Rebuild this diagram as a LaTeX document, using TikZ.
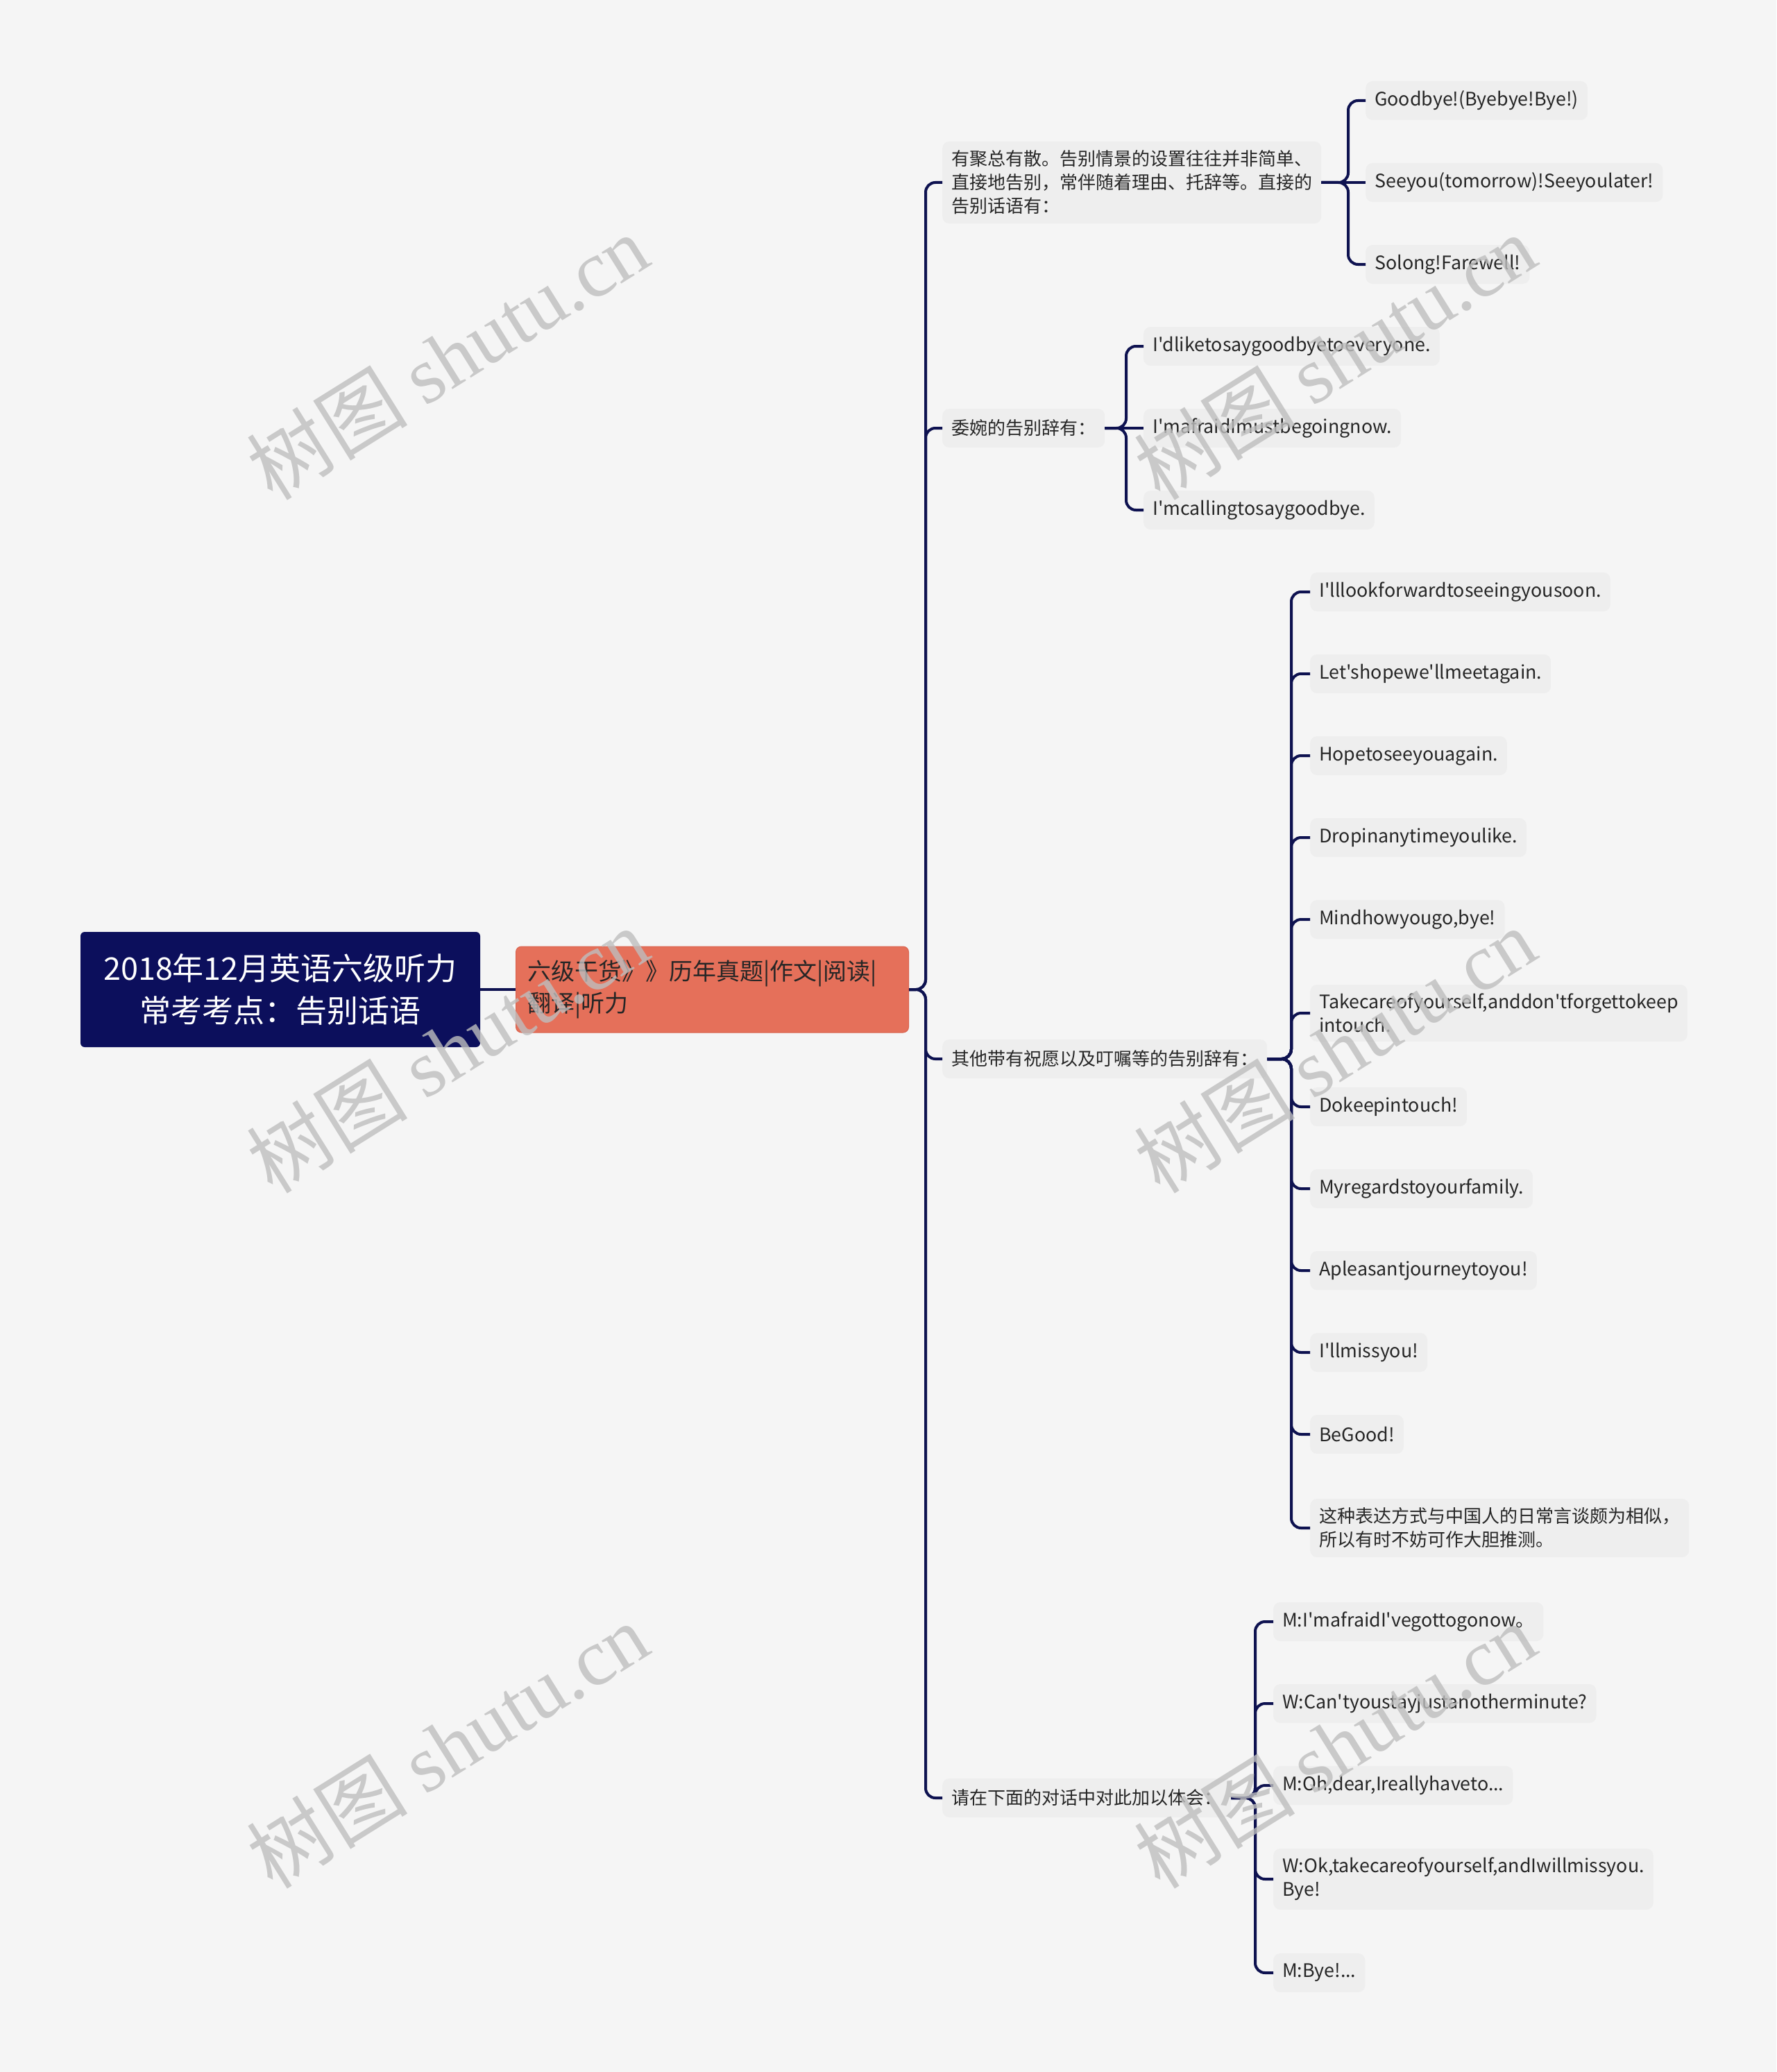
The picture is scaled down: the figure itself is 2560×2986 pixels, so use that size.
\documentclass[tikz,border=0pt]{standalone}
\usepackage{fontspec}
\setmainfont{Noto Sans CJK SC}[Ligatures=TeXOff]
\newfontfamily\wmcjk{Noto Sans CJK SC}
\newfontfamily\wmlat{Liberation Serif}
\definecolor{bgc}{HTML}{F5F5F5}
\definecolor{rootc}{HTML}{0C0F5C}
\definecolor{orangec}{HTML}{E5705A}
\definecolor{orangeb}{HTML}{D9634E}
\definecolor{boxc}{HTML}{EEEEEE}
\definecolor{textc}{HTML}{262626}
\definecolor{linec}{HTML}{0E1250}
\definecolor{wmc}{HTML}{BEBEBE}
\tikzset{
  rootbox/.style={fill=rootc, text=white, rounded corners=6pt, font=\fontsize{45}{61}\selectfont, align=center, minimum width=576pt, minimum height=166pt, inner sep=0pt},
  subbox/.style={fill=orangec, draw=orangeb, line width=1pt, rounded corners=8pt, font=\fontsize{34}{46}\selectfont, text=textc, align=left, text width=532pt, inner xsep=17pt, minimum height=124pt},
  topic/.style={fill=boxc, rounded corners=10pt, font=\fontsize{26}{34}\selectfont, text=textc, align=left, inner xsep=13pt, inner ysep=13pt, minimum height=56pt, anchor=west},
  leaf/.style={topic, font=\fontsize{26.8}{34}\selectfont},
  conn/.style={draw=linec, line width=4pt, rounded corners=14pt},
  wm/.style={text=wmc, text opacity=0.8, rotate=32, font=\fontsize{116}{116}\selectfont}
}
\begin{document}
\begin{tikzpicture}[x=1pt,y=-1pt]
\useasboundingbox[fill=bgc] (0,0) rectangle (2560,2986);
% root and sub
\node[rootbox] (root) at (404,1426) {2018年12月英语六级听力\\常考考点：告别话语};
\node[subbox, anchor=west] (sub) at (743,1426) {六级干货》》历年真题|作文|阅读|\\翻译|听力};
% level 2
\node[topic] (t1) at (1358,263) {有聚总有散。告别情景的设置往往并非简单、\\直接地告别，常伴随着理由、托辞等。直接的\\告别话语有：};
\node[topic] (t2) at (1358,617) {委婉的告别辞有：};
\node[topic] (t3) at (1358,1526) {其他带有祝愿以及叮嘱等的告别辞有：};
\node[topic] (t4) at (1358,2591) {请在下面的对话中对此加以体会：};
% group 1
\node[leaf] (a1) at (1968,145) {Goodbye!(Byebye!Bye!)};
\node[leaf] (a2) at (1968,263) {Seeyou(tomorrow)!Seeyoulater!};
\node[leaf] (a3) at (1968,381) {Solong!Farewell!};
% group 2
\node[leaf] (b1) at (1648,499) {I'dliketosaygoodbyetoeveryone.};
\node[leaf] (b2) at (1648,617) {I'mafraidImustbegoingnow.};
\node[leaf] (b3) at (1648,735) {I'mcallingtosaygoodbye.};
% group 3
\node[leaf] (c1) at (1888,853) {I'lllookforwardtoseeingyousoon.};
\node[leaf] (c2) at (1888,971) {Let'shopewe'llmeetagain.};
\node[leaf] (c3) at (1888,1089) {Hopetoseeyouagain.};
\node[leaf] (c4) at (1888,1207) {Dropinanytimeyoulike.};
\node[leaf] (c5) at (1888,1325) {Mindhowyougo,bye!};
\node[leaf] (c6) at (1888,1460) {Takecareofyourself,anddon'tforgettokeep\\intouch.};
\node[leaf] (c7) at (1888,1595) {Dokeepintouch!};
\node[leaf] (c8) at (1888,1713) {Myregardstoyourfamily.};
\node[leaf] (c9) at (1888,1831) {Apleasantjourneytoyou!};
\node[leaf] (c10) at (1888,1949) {I'llmissyou!};
\node[leaf] (c11) at (1888,2067) {BeGood!};
\node[topic] (c12) at (1888,2202) {这种表达方式与中国人的日常言谈颇为相似，\\所以有时不妨可作大胆推测。};
% group 4
\node[leaf] (d1) at (1835,2337) {M:I'mafraidI'vegottogonow。};
\node[leaf] (d2) at (1835,2455) {W:Can'tyoustayjustanotherminute?};
\node[leaf] (d3) at (1835,2573) {M:Oh,dear,Ireallyhaveto...};
\node[leaf] (d4) at (1835,2708) {W:Ok,takecareofyourself,andIwillmissyou.\\Bye!};
\node[leaf] (d5) at (1835,2843) {M:Bye!...};
% spine coordinates
\coordinate (s0) at (1334,1426);
\coordinate (s1) at (1943,263);
\coordinate (s2) at (1623,617);
\coordinate (s3) at (1861,1526);
\coordinate (s4) at (1809,2591);
% connectors
\draw[conn] (root.east) -- (sub.west);
\foreach \t in {t1,t2,t3,t4}{
  \draw[conn] (sub.east) -- (s0) |- (\t.west);
}
\draw[conn] (t1.east) -- (a2.west);
\foreach \l in {a1,a3}{\draw[conn] (t1.east) -- (s1) |- (\l.west);}
\draw[conn] (t2.east) -- (b2.west);
\foreach \l in {b1,b3}{\draw[conn] (t2.east) -- (s2) |- (\l.west);}
\foreach \l in {c1,c2,c3,c4,c5,c6,c7,c8,c9,c10,c11,c12}{\draw[conn] (t3.east) -- (s3) |- (\l.west);}
\foreach \l in {d1,d2,d3,d4,d5}{\draw[conn] (t4.east) -- (s4) |- (\l.west);}
% watermarks
\foreach \p [count=\i] in {(645,514),(645,1513),(645,2515),(1924,514),(1924,1513),(1924,2515)}{
  \node[wm] (w\i) at \p {{\wmcjk 树图} {\wmlat shutu.cn}};
}
\end{tikzpicture}
\end{document}
